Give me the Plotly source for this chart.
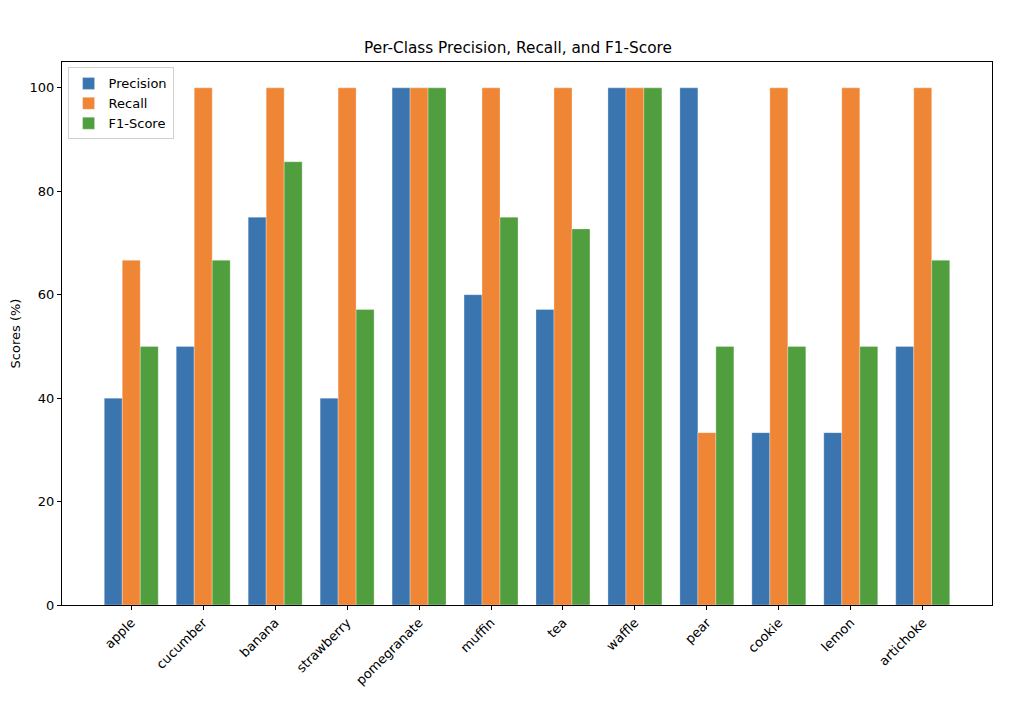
import plotly.graph_objects as go

classes = ["apple", "cucumber", "banana", "strawberry", "pomegranate", "muffin",
           "tea", "waffle", "pear", "cookie", "lemon", "artichoke"]
precision = [40.0, 50.0, 75.0, 40.0, 100.0, 60.0, 57.14, 100.0, 100.0, 33.33, 33.33, 50.0]
recall = [66.67, 100.0, 100.0, 100.0, 100.0, 100.0, 100.0, 100.0, 33.33, 100.0, 100.0, 100.0]
f1_score = [50.0, 66.67, 85.71, 57.14, 100.0, 75.0, 72.73, 100.0, 50.0, 50.0, 50.0, 66.67]

series = [("Precision", precision, "#3a75af"),
          ("Recall", recall, "#ef8636"),
          ("F1-Score", f1_score, "#519e3e")]

fig = go.Figure()
for name, vals, color in series:
    fig.add_trace(go.Bar(x=list(range(len(classes))), y=vals, name=name,
                         marker=dict(color=color, line=dict(color="white", width=0.3))))

axis_font = dict(family="DejaVu Sans", size=13, color="black")
fig.update_layout(
    width=1020, height=702,
    paper_bgcolor="white", plot_bgcolor="white",
    margin=dict(l=54, r=36, t=54, b=105),
    barmode="group", bargap=0.25, bargroupgap=0,
    font=dict(family="DejaVu Sans", size=13, color="black"),
    title=dict(text="Per-Class Precision, Recall, and F1-Score", x=0.5, xanchor="center",
               y=1 - 40 / 702, yanchor="middle", font=dict(size=15.3)),
    legend=dict(x=0.006, y=0.99, xanchor="left", yanchor="top",
                bordercolor="#d0d0d0", borderwidth=1, bgcolor="rgba(255,255,255,0.8)",
                font=dict(size=13), itemwidth=30),
    showlegend=True,
)
fig.update_xaxes(
    range=[-0.9625, 11.9625], tickmode="array", tickvals=list(range(len(classes))),
    ticktext=classes, tickangle=-45, ticks="outside", ticklen=4, tickcolor="black",
    showline=True, linecolor="black", linewidth=1, mirror=True, showgrid=False,
    tickfont=axis_font, zeroline=False, automargin=False,
)
fig.update_yaxes(
    range=[0, 105], tickvals=[0, 20, 40, 60, 80, 100], ticks="outside", ticklen=4,
    tickcolor="black", showline=True, linecolor="black", linewidth=1, mirror=True,
    showgrid=False, zeroline=False, tickfont=axis_font, automargin=False,
    title=dict(text="Scores (%)", font=dict(size=13), standoff=12),
)

fig.write_html("out.html")
